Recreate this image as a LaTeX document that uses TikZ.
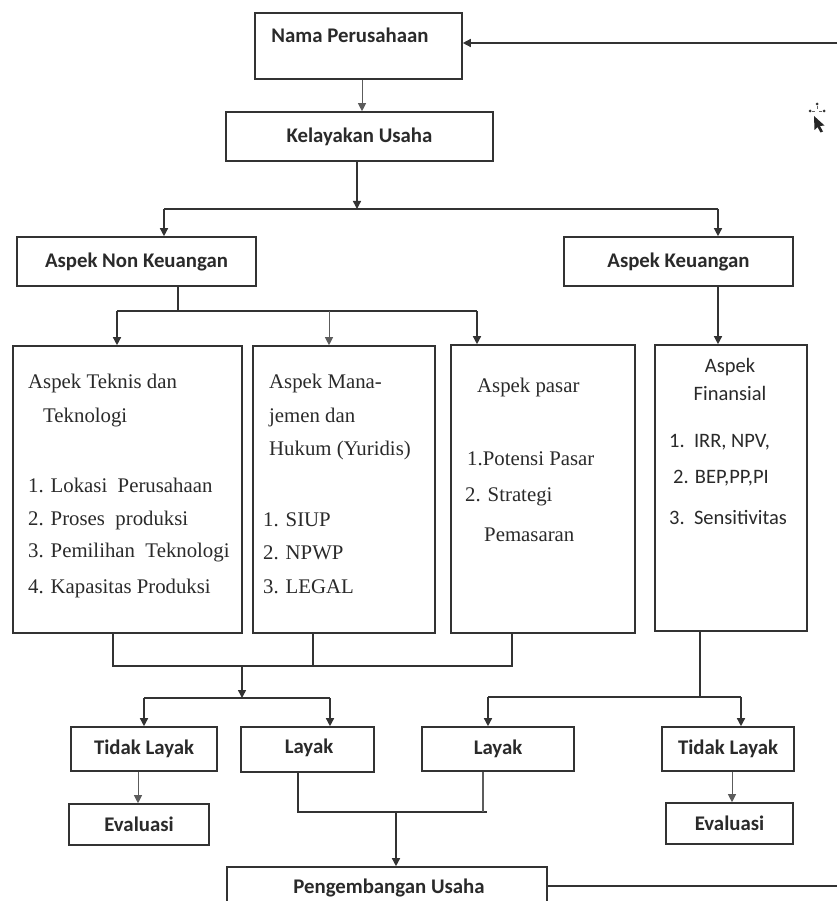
\documentclass[tikz,border=0pt]{standalone}
\usepackage{fontspec}
\setmainfont{Liberation Serif}
\newfontfamily\calfont{Carlito}
\usetikzlibrary{arrows.meta}
\definecolor{linec}{HTML}{333333}
\definecolor{txtc}{HTML}{2A2A2A}
\tikzset{
  box/.style={draw=linec, line width=1.6pt, rectangle, inner sep=0pt, fill=white},
  conn/.style={draw=linec, line width=1.4pt},
  thinconn/.style={draw=linec!80, line width=0.9pt},
  arr/.style={conn, -{Triangle[length=8pt,width=8pt]}},
  thinarr/.style={thinconn, -{Triangle[length=8pt,width=8pt]}},
  sbold/.style={font=\calfont\bfseries\fontsize{20.8}{24}\selectfont, text=txtc, inner sep=0pt},
  sreg/.style={font=\calfont\fontsize{20.5}{24}\selectfont, text=txtc, inner sep=0pt, anchor=west},
  serif/.style={font=\fontsize{20.8}{24}\selectfont, text=txtc, inner sep=0pt, anchor=west},
}
\begin{document}
\begin{tikzpicture}[x=1pt,y=-1pt]
\clip (0,0) rectangle (837,901);
\fill[white] (0,0) rectangle (837,901);

% boxes
\node[box, minimum width=207pt, minimum height=66pt] (nama) at (358.5,46) {};
\node[sbold] (namat) at (350,35) {Nama Perusahaan};
\node[box, minimum width=267pt, minimum height=49pt, sbold] (kel) at (359.5,136.5) {Kelayakan Usaha};
\node[box, minimum width=239pt, minimum height=49pt, sbold] (nonkeu) at (136.5,261.5) {Aspek Non Keuangan};
\node[box, minimum width=229pt, minimum height=49pt, sbold] (keu) at (678.5,261.5) {Aspek Keuangan};

\node[box, minimum width=229pt, minimum height=287pt] (teknis) at (127.5,489.5) {};
\node[box, minimum width=182pt, minimum height=287pt] (manaj) at (344,489.5) {};
\node[box, minimum width=184pt, minimum height=288pt] (pasar) at (543,489) {};
\node[box, minimum width=152pt, minimum height=286pt] (fin) at (731,488) {};

% Teknis text
\node[serif] (t1) at (28,383) {Aspek Teknis dan};
\node[serif] (t2) at (43,418) {Teknologi};
\node[serif] (t3) at (28,485) {1. Lokasi\ \ Perusahaan};
\node[serif] (t4) at (28,520) {2. Proses\ \ produksi};
\node[serif] (t5) at (28,553) {3. Pemilihan\ \ Teknologi};
\node[serif] (t6) at (28,588) {4. Kapasitas Produksi};
% Manajemen text
\node[serif] (m1) at (269,383) {Aspek Mana-};
\node[serif] (m2) at (269,417) {jemen dan};
\node[serif] (m3) at (269,450) {Hukum (Yuridis)};
\node[serif] (m4) at (263,520) {1. SIUP};
\node[serif] (m5) at (263,553) {2. NPWP};
\node[serif] (m6) at (263,587) {3. LEGAL};
% Pasar text
\node[serif] (p1) at (477,387) {Aspek pasar};
\node[serif] (p2) at (467,459) {1.Potensi Pasar};
\node[serif] (p3) at (465,497) {2. Strategi};
\node[serif] (p4) at (484,535) {Pemasaran};
% Finansial text
\node[sreg, anchor=center] (f1) at (730,367) {Aspek};
\node[sreg, anchor=center] (f2) at (730,393) {Finansial};
\node[sreg] (f3) at (669,442) {1.\ \ IRR, NPV,};
\node[sreg] (f4) at (673,478) {2. BEP,PP,PI};
\node[sreg] (f5) at (669,517) {3.\ \ Sensitivitas};

\node[box, minimum width=146pt, minimum height=44pt, sbold] (tl1) at (144,749) {Tidak Layak};
\node[box, minimum width=133pt, minimum height=45pt] (lay1) at (307.5,749.5) {};
\node[sbold] (lay1t) at (309,748) {Layak};
\node[box, minimum width=152pt, minimum height=44pt, sbold] (lay2) at (498,749) {Layak};
\node[box, minimum width=132pt, minimum height=44pt, sbold] (tl2) at (728,749) {Tidak Layak};
\node[box, minimum width=140pt, minimum height=41pt, sbold] (ev1) at (139,824.5) {Evaluasi};
\node[box, minimum width=127pt, minimum height=41pt, sbold] (ev2) at (729.5,823.5) {Evaluasi};
\node[box, minimum width=320pt, minimum height=80pt] (peng) at (387,907) {};
\node[sbold] (pengt) at (389,888) {Pengembangan Usaha};

% junction coordinates
\coordinate (j1) at (357,209);
\coordinate (j1l) at (164,209);
\coordinate (j1r) at (718,209);
\coordinate (j2) at (178,311);
\coordinate (j2l) at (117,311);
\coordinate (j2m) at (329,311);
\coordinate (j2r) at (477,311);
\coordinate (b1) at (113,666);
\coordinate (b2) at (313,666);
\coordinate (b3) at (512,666);
\coordinate (b4) at (242,666);
\coordinate (c0) at (242,698);
\coordinate (c1) at (144,698);
\coordinate (c2) at (330,698);
\coordinate (d1) at (298,812);
\coordinate (d2) at (483,812);
\coordinate (d3) at (487,812);
\coordinate (d4) at (396,812);
\coordinate (e0) at (700,697);
\coordinate (e1) at (488,697);
\coordinate (e2) at (741,697);
\coordinate (fbtop) at (837,43);
\coordinate (fbbot) at (837,886);

% connectors
\draw[thinarr] (nama.south -| 362,0) -- (kel.north -| 362,0);
\draw[arr] (kel.south -| j1) -- (j1);
\draw[conn] (j1l) -- (j1r);
\draw[arr] (j1l) -- (nonkeu.north -| j1l);
\draw[arr] (j1r) -- (keu.north -| j1r);
\draw[conn] (nonkeu.south -| j2) -- (j2);
\draw[conn] (j2l) -- (j2r);
\draw[arr] (j2l) -- (teknis.north -| j2l);
\draw[thinarr] (j2m) -- (manaj.north -| j2m);
\draw[arr] (j2r) -- (pasar.north -| j2r);
\draw[arr] (keu.south -| j1r) -- (fin.north -| j1r);

\draw[conn] (teknis.south -| b1) -- (b1) -- (b3) -- (pasar.south -| b3);
\draw[conn] (manaj.south -| b2) -- (b2);
\draw[arr] (b4) -- (c0);
\draw[conn] (c1) -- (c2);
\draw[arr] (c1) -- (tl1.north -| c1);
\draw[arr] (c2) -- (lay1.north -| c2);
\draw[thinarr] (tl1.south -| 138,0) -- (ev1.north -| 138,0);

\draw[conn] (lay1.south -| d1) -- (d1) -- (d3);
\draw[thinconn, line width=1.1pt] (lay2.south -| d2) -- (d2);
\draw[arr] (d4) -- (peng.north -| d4);

\draw[conn] (fin.south -| e0) -- (e0);
\draw[conn] (e1) -- (e2);
\draw[arr] (e1) -- (lay2.north -| e1);
\draw[arr] (e2) -- (tl2.north -| e2);
\draw[thinarr] (tl2.south -| 732,0) -- (ev2.north -| 732,0);

\draw[arr] (fbtop) -- (nama.east |- fbtop);
\draw[conn] (peng.east |- fbbot) -- (fbbot);

% cursor
\fill[black!85] (814,116) -- (814.5,130) -- (817.5,127) -- (820.5,132.5) -- (823,131.5) -- (820,126) -- (824.5,125.5) -- cycle;
\fill[black!80] (817,104) circle (1.5pt) (810,111) circle (1.5pt) (824,111) circle (1.5pt);
\draw[black!60, line width=0.6pt] (817,106) -- (817,109) (812,111) -- (815,111) (819,111) -- (822,111);
\end{tikzpicture}
\end{document}
